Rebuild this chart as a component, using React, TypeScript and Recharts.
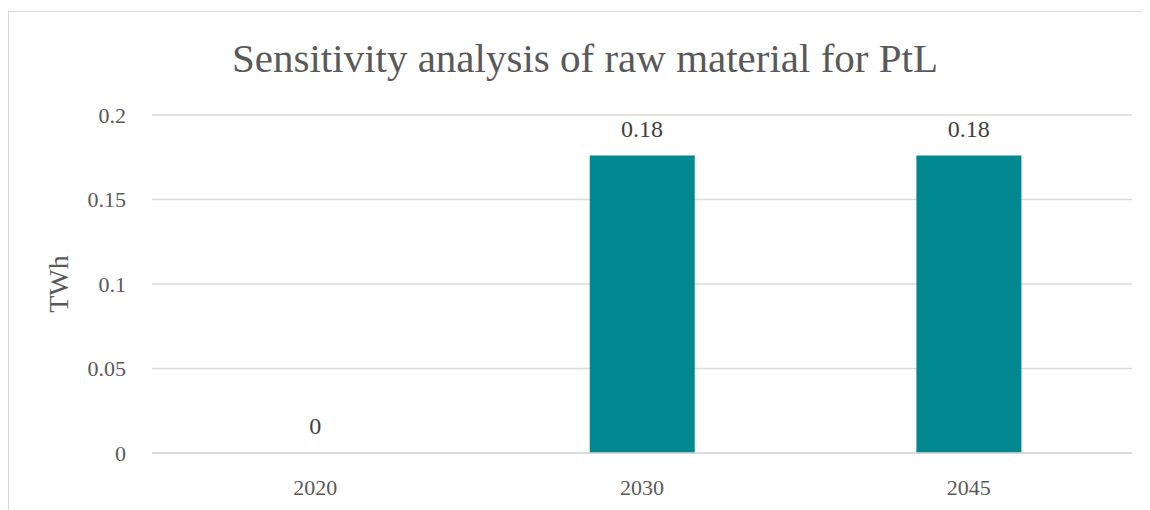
import { ComposedChart, Bar, Line, XAxis, YAxis, CartesianGrid, LabelList } from "recharts";

const YEARS = ["2020", "2030", "2045"];
const RAW_MATERIAL = [0, 0.176, 0.176];
const Y_TICKS = [0, 0.05, 0.1, 0.15, 0.2];

const DATA = YEARS.map((year, i) => ({ year, value: RAW_MATERIAL[i] }));

const FONT = "'Liberation Serif', 'DejaVu Serif', serif";
const GREY = "#595959";

export default function App() {
  return (
    <div
      style={{
        position: "relative",
        marginTop: 3,
        width: 1160,
        height: 520,
        border: "1px solid #d9d9d9",
        fontFamily: FONT,
        overflow: "hidden",
      }}
    >
      <div
        style={{
          position: "absolute",
          top: 22,
          left: 0,
          width: 1152,
          textAlign: "center",
          fontSize: 41,
          color: GREY,
        }}
      >
        Sensitivity analysis of raw material for PtL
      </div>
      <ComposedChart
        width={1160}
        height={520}
        data={DATA}
        margin={{ top: 103, right: 37, left: 63, bottom: 39 }}
        barCategoryGap="34%"
      >
        <CartesianGrid vertical={false} stroke="#d9d9d9" strokeWidth={1.5} />
        <XAxis
          dataKey="year"
          axisLine={{ stroke: "#d9d9d9", strokeWidth: 1.5 }}
          tickLine={false}
          height={40}
          tickMargin={20}
          tick={{ fontSize: 22, fill: GREY, fontFamily: FONT }}
        />
        <YAxis
          domain={[0, 0.2]}
          ticks={Y_TICKS}
          axisLine={false}
          tickLine={false}
          width={80}
          tickMargin={20}
          tick={{ fontSize: 22, fill: GREY, fontFamily: FONT }}
          label={{
            value: "TWh",
            angle: -90,
            position: "insideLeft",
            offset: -14,
            style: { fontSize: 28, fill: GREY, fontFamily: FONT, textAnchor: "middle" },
          }}
        />
        <Bar dataKey="value" fill="#008891" isAnimationActive={false} />
        <Line
          dataKey="value"
          stroke="none"
          dot={false}
          activeDot={false}
          legendType="none"
          isAnimationActive={false}
        >
          <LabelList
            dataKey="value"
            position="top"
            offset={19}
            formatter={(v: number) => (v === 0 ? "0" : v.toFixed(2))}
            style={{ fontSize: 24, fill: "#404040", fontFamily: FONT }}
          />
        </Line>
      </ComposedChart>
    </div>
  );
}
